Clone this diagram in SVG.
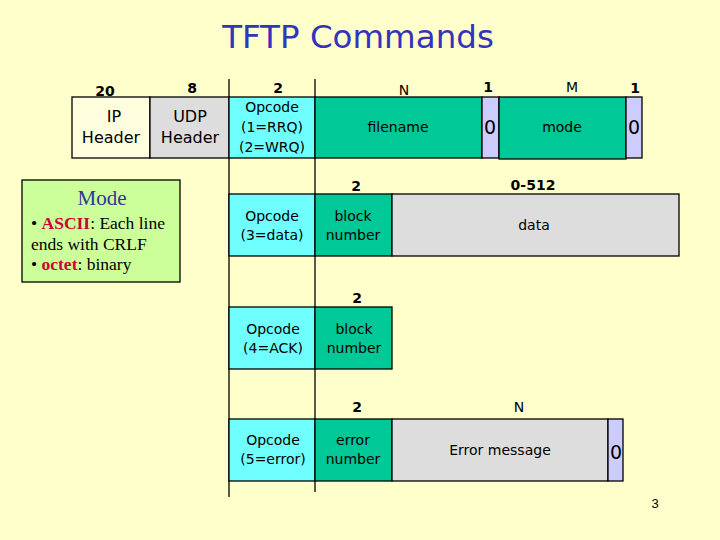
<svg xmlns="http://www.w3.org/2000/svg" width="720" height="540" viewBox="0 0 720 540">
<style>
.t{font-family:"DejaVu Sans","Liberation Sans",sans-serif;fill:#000;text-anchor:middle}
.s14{font-size:14px}
.n{font-size:14px;font-weight:bold}
.s16{font-size:16px}
.s18{font-size:19px}
.b{stroke:#000;stroke-width:1.3}
.ip{fill:#FFFFE0}
.gr{fill:#DDDDDD}
.cy{fill:#6FFFFF}
.gn{fill:#00C896}
.lv{fill:#CCCCFF}
.ser{font-family:"Liberation Serif","Times New Roman",serif}
.m{font-size:17.5px}
.red{fill:#CC0033;font-weight:bold}
</style>
<rect width="720" height="540" fill="#FFFFCC"/>
<text x="358" y="48" class="t" style="font-size:32.5px;fill:#3333BB">TFTP Commands</text>

<g id="connectors" class="b">
<line x1="229" y1="79" x2="229" y2="497"/>
<line x1="315" y1="79" x2="315" y2="492"/>
</g>

<g id="row1">
<rect x="72" y="97" width="78" height="61" class="ip b"/>
<rect x="150" y="97" width="79" height="61" class="gr b"/>
<rect x="229" y="97" width="86" height="61" class="cy b"/>
<rect x="315" y="97" width="167" height="61" class="gn b"/>
<rect x="482" y="97" width="17" height="61" class="lv b"/>
<rect x="499" y="97" width="127" height="62" class="gn b"/>
<rect x="626" y="97" width="16" height="61" class="lv b"/>
<text x="105" y="96" class="t n">20</text>
<text x="192" y="93" class="t n">8</text>
<text x="278" y="93" class="t n">2</text>
<text x="404" y="95" class="t s14">N</text>
<text x="488" y="92" class="t n">1</text>
<text x="572" y="92" class="t s14">M</text>
<text x="635" y="93" class="t n">1</text>
<text x="114" y="122" class="t s16">IP</text>
<text x="111" y="143" class="t s16">Header</text>
<text x="190" y="122" class="t s16">UDP</text>
<text x="190" y="143" class="t s16">Header</text>
<text x="272" y="112" class="t s14">Opcode</text>
<text x="272" y="132" class="t s14">(1=RRQ)</text>
<text x="272" y="152" class="t s14">(2=WRQ)</text>
<text x="398" y="132" class="t s14">filename</text>
<text x="490" y="134" class="t s18">0</text>
<text x="562" y="132" class="t s14">mode</text>
<text x="634" y="134" class="t s18">0</text>
</g>

<g id="mode-note">
<rect x="22" y="180" width="158" height="102" fill="#CCFF99" class="b"/>
<text x="102" y="205" class="ser" style="font-size:21px;fill:#333399;text-anchor:middle">Mode</text>
<text x="31" y="229" class="ser m">• <tspan class="red">ASCII</tspan>: Each line</text>
<text x="31" y="250" class="ser m">ends with CRLF</text>
<text x="31" y="270" class="ser m">• <tspan class="red">octet</tspan>: binary</text>
</g>

<g id="row-data">
<rect x="229" y="194" width="86" height="62" class="cy b"/>
<rect x="315" y="194" width="77" height="62" class="gn b"/>
<rect x="392" y="194" width="287" height="62" class="gr b"/>
<text x="356" y="191" class="t n">2</text>
<text x="533" y="190" class="t n">0-512</text>
<text x="272" y="221" class="t s14">Opcode</text>
<text x="272" y="240" class="t s14">(3=data)</text>
<text x="353" y="221" class="t s14">block</text>
<text x="353" y="240" class="t s14">number</text>
<text x="534" y="230" class="t s14">data</text>
</g>

<g id="row-ack">
<rect x="229" y="307" width="86" height="62" class="cy b"/>
<rect x="315" y="307" width="77" height="62" class="gn b"/>
<text x="357" y="303" class="t n">2</text>
<text x="273" y="334" class="t s14">Opcode</text>
<text x="273" y="353" class="t s14">(4=ACK)</text>
<text x="354" y="334" class="t s14">block</text>
<text x="354" y="353" class="t s14">number</text>
</g>

<g id="row-error">
<rect x="229" y="419" width="86" height="62" class="cy b"/>
<rect x="315" y="419" width="77" height="62" class="gn b"/>
<rect x="392" y="419" width="216" height="62" class="gr b"/>
<rect x="608" y="419" width="15" height="62" class="lv b"/>
<text x="357" y="412" class="t n">2</text>
<text x="519" y="412" class="t s14">N</text>
<text x="273" y="445" class="t s14">Opcode</text>
<text x="273" y="464" class="t s14">(5=error)</text>
<text x="353" y="445" class="t s14">error</text>
<text x="353" y="464" class="t s14">number</text>
<text x="500" y="455" class="t s14">Error message</text>
<text x="616" y="459" class="t s18">0</text>
</g>

<text x="655" y="508" style="font-family:'Liberation Sans',sans-serif;font-size:13px;text-anchor:middle">3</text>
</svg>
